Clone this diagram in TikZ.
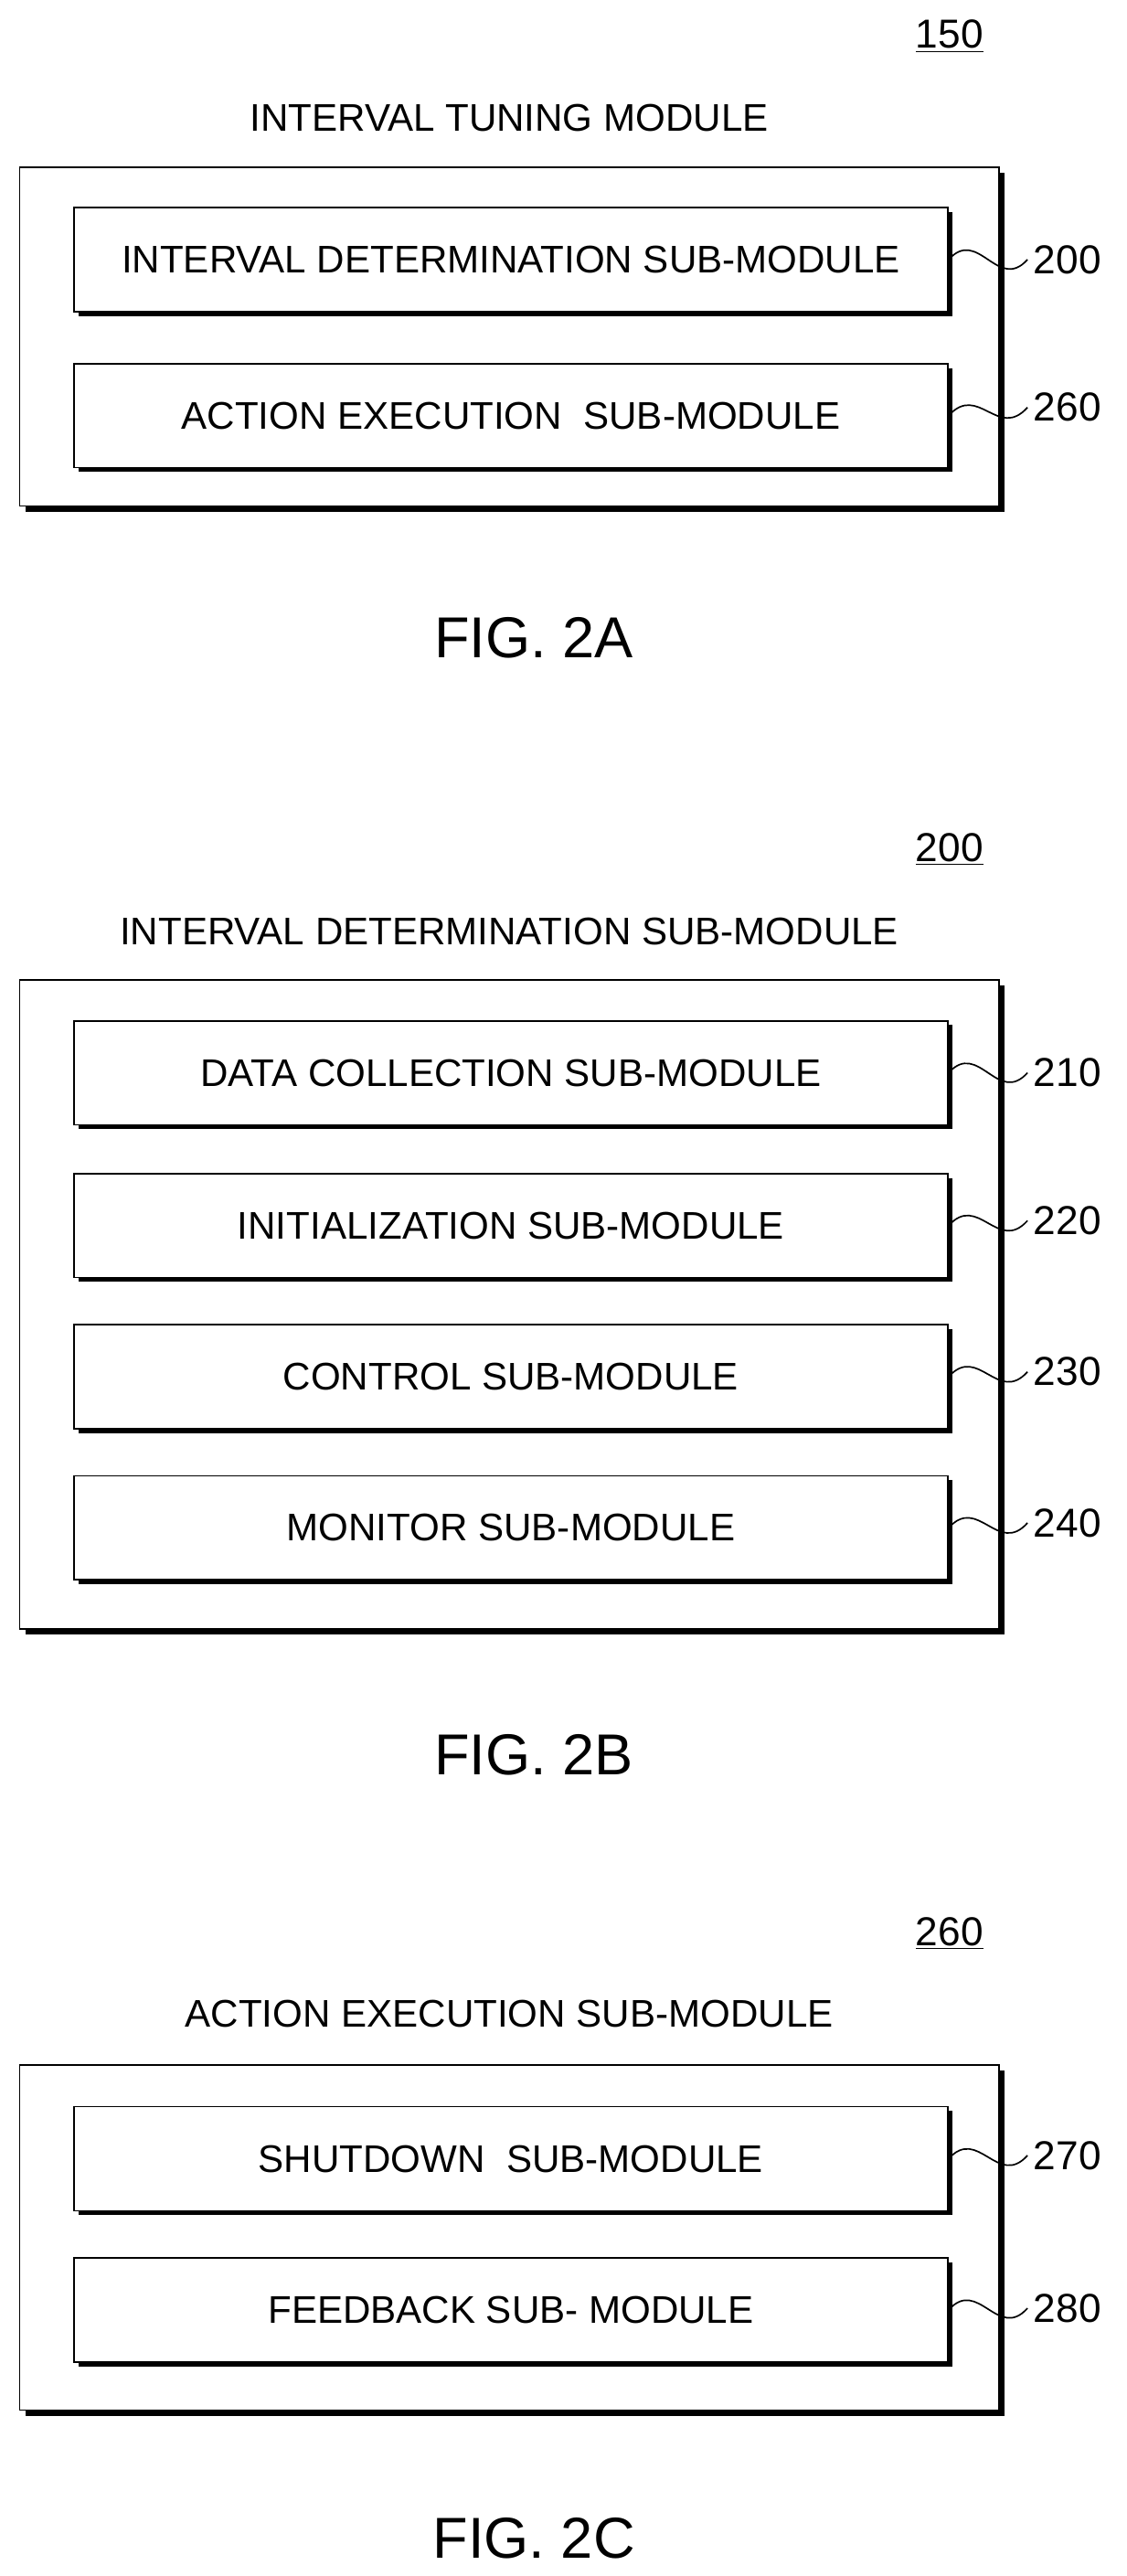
\documentclass[tikz,border=0pt]{standalone}
\usepackage{fontspec}
\setmainfont{Liberation Sans}
\usetikzlibrary{shadows}
\tikzstyle{outerbox} = [rectangle, draw=black, thick, fill=white, minimum width=17.88cm, drop shadow={fill=black, opacity=1, shadow xshift=0.1cm, shadow yshift=-0.1cm}]
\tikzstyle{subbox} = [rectangle, draw=black, thick, fill=white, minimum width=15.96cm, minimum height=1.9cm, font=\fontsize{20}{23}\selectfont, drop shadow={fill=black, opacity=1, shadow xshift=0.08cm, shadow yshift=-0.08cm}]
\tikzstyle{reflabel} = [anchor=west, inner sep=0pt, font=\fontsize{21}{24}\selectfont]
\tikzstyle{numlabel} = [font=\fontsize{21}{24}\selectfont]
\tikzstyle{title} = [font=\fontsize{20}{23}\selectfont]
\tikzstyle{figlabel} = [font=\fontsize{30}{34}\selectfont]
\tikzstyle{leader} = [thick]

\begin{document}
\begin{tikzpicture}[x=0.03cm, y=-0.03cm]
\useasboundingbox (0,0) rectangle (686,1568);

% FIG. 2A
\node (num150) [numlabel] at (578,22) {\underline{150}};
\node (ttl2a) [title] at (310,72) {INTERVAL TUNING MODULE};
\node (tuning) [outerbox, minimum height=6.18cm] at (310,205) {};
\node (intdet) [subbox] at (311,158) {INTERVAL DETERMINATION SUB-MODULE};
\node (actexe) [subbox] at (311,253) {ACTION EXECUTION\ \ SUB-MODULE};
\node (l200) [reflabel] at (629,158) {200};
\node (l260) [reflabel] at (629,248) {260};
\node (fig2a) [figlabel] at (325,388) {FIG. 2A};

% FIG. 2B
\node (num200) [numlabel] at (578,517) {\underline{200}};
\node (ttl2b) [title] at (310,567) {INTERVAL DETERMINATION SUB-MODULE};
\node (determ) [outerbox, minimum height=11.85cm] at (310,794) {};
\node (datacol) [subbox] at (311,653) {DATA COLLECTION SUB-MODULE};
\node (init) [subbox] at (311,746) {INITIALIZATION SUB-MODULE};
\node (control) [subbox] at (311,838) {CONTROL SUB-MODULE};
\node (monitor) [subbox] at (311,930) {MONITOR SUB-MODULE};
\node (l210) [reflabel] at (629,653) {210};
\node (l220) [reflabel] at (629,743) {220};
\node (l230) [reflabel] at (629,835) {230};
\node (l240) [reflabel] at (629,927) {240};
\node (fig2b) [figlabel] at (325,1068) {FIG. 2B};

% FIG. 2C
\node (num260) [numlabel] at (578,1177) {\underline{260}};
\node (ttl2c) [title] at (310,1226) {ACTION EXECUTION SUB-MODULE};
\node (action) [outerbox, minimum height=6.3cm] at (310,1362) {};
\node (shutdown) [subbox] at (311,1314) {SHUTDOWN\ \ SUB-MODULE};
\node (feedback) [subbox] at (311,1406) {FEEDBACK SUB- MODULE};
\node (l270) [reflabel] at (629,1312) {270};
\node (l280) [reflabel] at (629,1405) {280};
\node (fig2c) [figlabel] at (325,1545) {FIG. 2C};

% leaders
\draw [leader] (intdet.east) .. controls +(18,-20) and +(-18,20) .. ([xshift=-3pt]l200.west);
\draw [leader] (actexe.east) .. controls +(18,-20) and +(-18,20) .. ([xshift=-3pt]l260.west);
\draw [leader] (datacol.east) .. controls +(18,-20) and +(-18,20) .. ([xshift=-3pt]l210.west);
\draw [leader] (init.east) .. controls +(18,-20) and +(-18,20) .. ([xshift=-3pt]l220.west);
\draw [leader] (control.east) .. controls +(18,-20) and +(-18,20) .. ([xshift=-3pt]l230.west);
\draw [leader] (monitor.east) .. controls +(18,-20) and +(-18,20) .. ([xshift=-3pt]l240.west);
\draw [leader] (shutdown.east) .. controls +(18,-20) and +(-18,20) .. ([xshift=-3pt]l270.west);
\draw [leader] (feedback.east) .. controls +(18,-20) and +(-18,20) .. ([xshift=-3pt]l280.west);

\end{tikzpicture}
\end{document}
